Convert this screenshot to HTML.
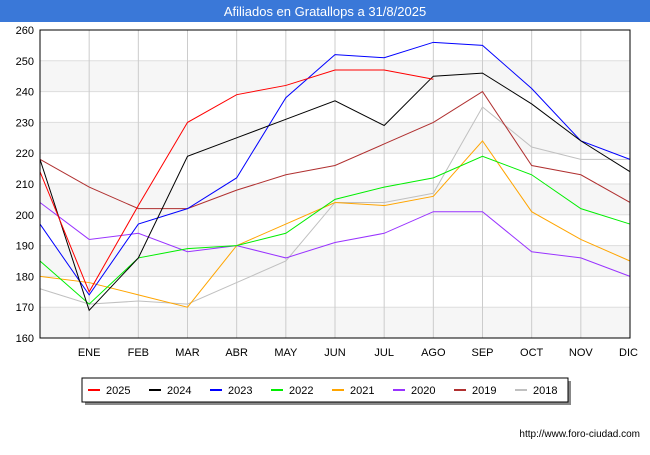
<!DOCTYPE html>
<html><head><meta charset="utf-8"><style>
body{margin:0;width:650px;height:450px;background:#fff;font-family:"Liberation Sans",sans-serif;overflow:hidden}
</style></head><body>
<svg width="650" height="450" xmlns="http://www.w3.org/2000/svg" font-family="Liberation Sans, sans-serif">
<rect x="0" y="0" width="650" height="22" fill="#3a78d8"/>
<text x="325" y="16" text-anchor="middle" fill="#fff" font-size="13">Afiliados en Gratallops a 31/8/2025</text>
<g id="grid"></g>
<g id="series"></g>
<rect x="40" y="30" width="590" height="308" fill="none" stroke="#000" stroke-width="1"/>
<g id="axes" font-size="11" fill="#000"></g>
<rect x="85" y="381" width="486" height="24" fill="#888"/>
<rect x="82" y="378" width="486" height="24" fill="#fff" stroke="#000"/>
<g id="legend" font-size="11"></g>
<text x="640" y="437" text-anchor="end" font-size="10" fill="#000">http://www.foro-ciudad.com</text>
</svg>
<script>
const months=["","ENE","FEB","MAR","ABR","MAY","JUN","JUL","AGO","SEP","OCT","NOV","DIC"];
const yTicks=[160,170,180,190,200,210,220,230,240,250,260];
const seriesNames=["2025","2024","2023","2022","2021","2020","2019","2018"];
const seriesColors=["#ff0000","#000000","#0000ff","#00ee00","#ffa500","#9933ff","#b03030","#c0c0c0"];
const s2025=[214,175,203,230,239,242,247,247,244];
const s2024=[218,169,186,219,225,231,237,229,245,246,236,224,214];
const s2023=[197,174,197,202,212,238,252,251,256,255,241,224,218];
const s2022=[185,171,186,189,190,194,205,209,212,219,213,202,197];
const s2021=[180,178,174,170,190,197,204,203,206,224,201,192,185];
const s2020=[204,192,194,188,190,186,191,194,201,201,188,186,180];
const s2019=[218,209,202,202,208,213,216,223,230,240,216,213,204];
const s2018=[176,171,172,171,178,185,204,204,207,235,222,218,218];
const allSeries=[s2025,s2024,s2023,s2022,s2021,s2020,s2019,s2018];
const NS="http://www.w3.org/2000/svg";
const x=i=>40+i*(590/12);
const y=v=>338-(v-160)*308/100;
function mk(t,a,p){const e=document.createElementNS(NS,t);for(const k in a)e.setAttribute(k,a[k]);p.appendChild(e);return e;}
const grid=document.getElementById('grid'),ax=document.getElementById('axes'),ser=document.getElementById('series'),lg=document.getElementById('legend');
for(let k=0;k<yTicks.length-1;k++){if(k%2===0){const b=mk('rect',{x:40,y:y(yTicks[k+1]),width:590,height:y(yTicks[k])-y(yTicks[k+1]),fill:'#f6f6f6'},grid);

}}
yTicks.forEach(v=>{const l=mk('line',{x1:40,x2:630,y1:y(v),y2:y(v),stroke:'#dddddd'},grid);


const t=mk('text',{x:34,y:y(v)+4,'text-anchor':'end'},ax);t.textContent=v;

});
months.forEach((m,i)=>{if(i===0)return;const l=mk('line',{x1:x(i),x2:x(i),y1:30,y2:338,stroke:'#cccccc'},grid);


const t=mk('text',{x:x(i),y:356,'text-anchor':i===12?'end':'middle'},ax);t.textContent=m;if(i===12)t.setAttribute('x',x(i)+8);

});
for(let s=allSeries.length-1;s>=0;s--){const p=mk('polyline',{points:allSeries[s].map((v,i)=>x(i)+','+y(v)).join(' '),fill:'none',stroke:seriesColors[s],'stroke-width':1},ser);

}
seriesNames.forEach((n,i)=>{const lx=88+i*61;const l=mk('line',{x1:lx,x2:lx+12,y1:390,y2:390,stroke:seriesColors[i],'stroke-width':2},lg);


const t=mk('text',{x:lx+18,y:394},lg);t.textContent=n;

});
</script>
</body></html>
